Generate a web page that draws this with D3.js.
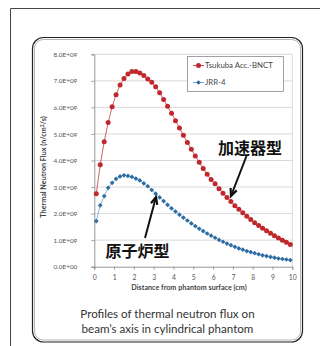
<!DOCTYPE html>
<html>
<head>
<meta charset="utf-8">
<script src="https://cdn.jsdelivr.net/npm/d3@7"></script>
<style>
  body { margin: 0; background: #fff; }
  svg { display: block; }
</style>
</head>
<body>
<script>
// depth in cm (bin centres, 0.2 cm steps)
var depth = [0.1, 0.3, 0.5, 0.7, 0.9, 1.1, 1.3, 1.5, 1.7, 1.9,
  2.1, 2.3, 2.5, 2.7, 2.9, 3.1, 3.3, 3.5, 3.7, 3.9,
  4.1, 4.3, 4.5, 4.7, 4.9, 5.1, 5.3, 5.5, 5.7, 5.9,
  6.1, 6.3, 6.5, 6.7, 6.9, 7.1, 7.3, 7.5, 7.7, 7.9,
  8.1, 8.3, 8.5, 8.7, 8.9, 9.1, 9.3, 9.5, 9.7, 9.9];

// flux in units of 1E+09 n/cm2/s
var tsukuba = [2.75, 3.84, 4.71, 5.43, 6.02, 6.48, 6.84, 7.09, 7.26, 7.35,
  7.35, 7.30, 7.20, 7.07, 6.95, 6.78, 6.55, 6.30, 6.04, 5.78,
  5.50, 5.22, 4.95, 4.68, 4.42, 4.17, 3.93, 3.70, 3.48, 3.28,
  3.12, 2.94, 2.77, 2.61, 2.46, 2.30, 2.16, 2.03, 1.90, 1.78,
  1.66, 1.55, 1.45, 1.35, 1.26, 1.17, 1.08, 1.00, 0.92, 0.84];

var jrr4 = [1.72, 2.31, 2.66, 2.97, 3.16, 3.31, 3.40, 3.44, 3.42, 3.38,
  3.32, 3.25, 3.14, 3.03, 2.89, 2.75, 2.61, 2.47, 2.33, 2.20,
  2.08, 1.96, 1.85, 1.74, 1.63, 1.53, 1.43, 1.34, 1.25, 1.17,
  1.09, 1.01, 0.94, 0.87, 0.81, 0.75, 0.69, 0.64, 0.59, 0.55,
  0.51, 0.47, 0.43, 0.40, 0.37, 0.34, 0.31, 0.29, 0.27, 0.25];

var xTicks = [0, 1, 2, 3, 4, 5, 6, 7, 8, 9, 10];
var yTicks = [0, 1, 2, 3, 4, 5, 6, 7, 8];
var seriesNames = ["Tsukuba Acc.-BNCT", "JRR-4"];
var caption = ["Profiles of thermal neutron flux on", "beam\u2019s axis in cylindrical phantom"];

var W = 320, H = 346;

var svg = d3.select("body").append("svg")
  .attr("width", W)
  .attr("height", H);

// outer page frame
svg.append("path")
  .attr("d", "M10.5," + H + "V8.5H" + W)
  .attr("fill", "none")
  .attr("stroke", "#444")
  .attr("stroke-width", 1);

// rounded panel (double edge)
svg.append("rect")
  .attr("x", 32.5).attr("y", 37.5).attr("width", 270).attr("height", 304.5)
  .attr("rx", 11).attr("fill", "#fff")
  .attr("stroke", "#222").attr("stroke-width", 1.2);
svg.append("rect")
  .attr("x", 34.5).attr("y", 39.5).attr("width", 266).attr("height", 300.5)
  .attr("rx", 9).attr("fill", "none")
  .attr("stroke", "#b5b5b5").attr("stroke-width", 1);

var x = d3.scaleLinear().domain([0, 10]).range([94.3, 292.3]);
var y = d3.scaleLinear().domain([0, 8]).range([266.7, 54.3]);

// gridlines
svg.append("g").selectAll("line")
  .data(yTicks.slice(1))
  .enter().append("line")
  .attr("x1", x(0)).attr("x2", x(10))
  .attr("y1", function (d) { return y(d); })
  .attr("y2", function (d) { return y(d); })
  .attr("stroke", "#cfcfcf")
  .attr("stroke-width", 0.8);

svg.append("line")
  .attr("x1", x(10)).attr("x2", x(10))
  .attr("y1", y(8)).attr("y2", y(0))
  .attr("stroke", "#cfcfcf").attr("stroke-width", 0.8);

// axes
var fmtY = function (d) { return d === 0 ? "0.0E+00" : d.toFixed(1) + "E+09"; };

var yAxis = svg.append("g")
  .attr("transform", "translate(" + x(0) + ",0)")
  .call(d3.axisLeft(y).tickValues(yTicks).tickFormat(fmtY).tickSize(3).tickPadding(14));
var xAxis = svg.append("g")
  .attr("transform", "translate(0," + y(0) + ")")
  .call(d3.axisBottom(x).tickValues(xTicks).tickSize(3).tickPadding(5));

[yAxis, xAxis].forEach(function (g) {
  g.select(".domain").attr("stroke", "#8a8a8a").attr("stroke-width", 0.9);
  g.selectAll(".tick line").attr("stroke", "#8a8a8a").attr("stroke-width", 0.8);
  g.selectAll(".tick text")
    .attr("fill", "#555")
    .style("font-family", "Lato, 'Open Sans', sans-serif");
});
yAxis.selectAll(".tick text").style("font-size", "6.4px");
xAxis.selectAll(".tick text").style("font-size", "6.8px");

// axis titles
svg.append("text")
  .attr("x", 189).attr("y", 289.5)
  .attr("text-anchor", "middle")
  .style("font-family", "Lato, 'Open Sans', sans-serif")
  .style("font-size", "7.2px").style("font-weight", "bold")
  .attr("fill", "#444")
  .text("Distance from phantom surface (cm)");

var yTitle = svg.append("text")
  .attr("transform", "translate(46,167) rotate(-90)")
  .attr("text-anchor", "middle")
  .style("font-family", "Lato, 'Open Sans', sans-serif")
  .style("font-size", "7.2px").style("font-weight", "bold")
  .attr("fill", "#444");
yTitle.append("tspan").text("Thermal Neutron Flux (n/cm");
yTitle.append("tspan").attr("dy", -2.5).style("font-size", "5px").text("2");
yTitle.append("tspan").attr("dy", 2.5).text("/s)");

// series
var red = "#c0282d", redLine = "#c43a3e";
var blue = "#2d6ca2", blueLine = "#6aa2d8";

var line = d3.line()
  .x(function (d) { return x(d[0]); })
  .y(function (d) { return y(d[1]); });

var redPts = d3.zip(depth, tsukuba);
var bluePts = d3.zip(depth, jrr4);

svg.append("path").datum(bluePts)
  .attr("d", line).attr("fill", "none")
  .attr("stroke", blueLine).attr("stroke-width", 0.8);
svg.append("path").datum(redPts)
  .attr("d", line).attr("fill", "none")
  .attr("stroke", redLine).attr("stroke-width", 0.8);

var diamond = d3.symbol().type(d3.symbolDiamond2).size(14);

svg.append("g").selectAll("path")
  .data(bluePts)
  .enter().append("path")
  .attr("d", diamond)
  .attr("transform", function (d) { return "translate(" + x(d[0]) + "," + y(d[1]) + ")"; })
  .attr("fill", blue);

svg.append("g").selectAll("circle")
  .data(redPts)
  .enter().append("circle")
  .attr("cx", function (d) { return x(d[0]); })
  .attr("cy", function (d) { return y(d[1]); })
  .attr("r", 2.5)
  .attr("fill", red);

// legend
var legend = svg.append("g");
legend.append("rect")
  .attr("x", 187.5).attr("y", 56.5).attr("width", 96).attr("height", 35)
  .attr("fill", "#fff").attr("stroke", "#8a8a8a").attr("stroke-width", 0.8);

var legendRows = [
  { name: seriesNames[0], color: red, lineColor: redLine, y: 65.5, shape: "circle" },
  { name: seriesNames[1], color: blue, lineColor: blueLine, y: 82.5, shape: "diamond" }
];
legendRows.forEach(function (r) {
  legend.append("line")
    .attr("x1", 193).attr("x2", 204).attr("y1", r.y).attr("y2", r.y)
    .attr("stroke", r.lineColor).attr("stroke-width", 0.9);
  if (r.shape === "circle") {
    legend.append("circle").attr("cx", 198.5).attr("cy", r.y).attr("r", 2.5).attr("fill", r.color);
  } else {
    legend.append("path").attr("d", diamond)
      .attr("transform", "translate(198.5," + r.y + ")").attr("fill", r.color);
  }
  legend.append("text")
    .attr("x", 205).attr("y", r.y + 2.7)
    .style("font-family", "Lato, 'Open Sans', sans-serif")
    .style("font-size", "7.8px")
    .attr("fill", "#444")
    .text(r.name);
});

// annotations with arrows
var jp = "'Noto Sans CJK JP', 'Noto Sans CJK SC', sans-serif";

function arrow(x1, y1, x2, y2) {
  var a = Math.atan2(y2 - y1, x2 - x1), L = 8, s = 0.42;
  svg.append("line")
    .attr("x1", x1).attr("y1", y1).attr("x2", x2).attr("y2", y2)
    .attr("stroke", "#111").attr("stroke-width", 2);
  svg.append("path")
    .attr("d", "M" + (x2 - L * Math.cos(a - s)) + "," + (y2 - L * Math.sin(a - s)) +
      "L" + x2 + "," + y2 +
      "L" + (x2 - L * Math.cos(a + s)) + "," + (y2 - L * Math.sin(a + s)))
    .attr("fill", "none").attr("stroke", "#111").attr("stroke-width", 2.2)
    .attr("stroke-linejoin", "miter");
}

svg.append("text")
  .attr("x", 218).attr("y", 153.5)
  .style("font-family", jp).style("font-size", "16px").style("font-weight", "bold")
  .attr("fill", "#111")
  .text("加速器型");
arrow(246.5, 156, 231, 196);

svg.append("text")
  .attr("x", 105.5).attr("y", 257)
  .style("font-family", jp).style("font-size", "16px").style("font-weight", "bold")
  .attr("fill", "#111")
  .text("原子炉型");
arrow(145, 238, 156, 197);

// caption
svg.append("g").selectAll("text")
  .data(caption)
  .enter().append("text")
  .attr("x", 167.5)
  .attr("y", function (d, i) { return 318 + i * 15; })
  .attr("text-anchor", "middle")
  .style("font-family", "Lato, 'Open Sans', sans-serif")
  .style("font-size", "11.6px")
  .attr("fill", "#333")
  .text(function (d) { return d; });
</script>
</body>
</html>
